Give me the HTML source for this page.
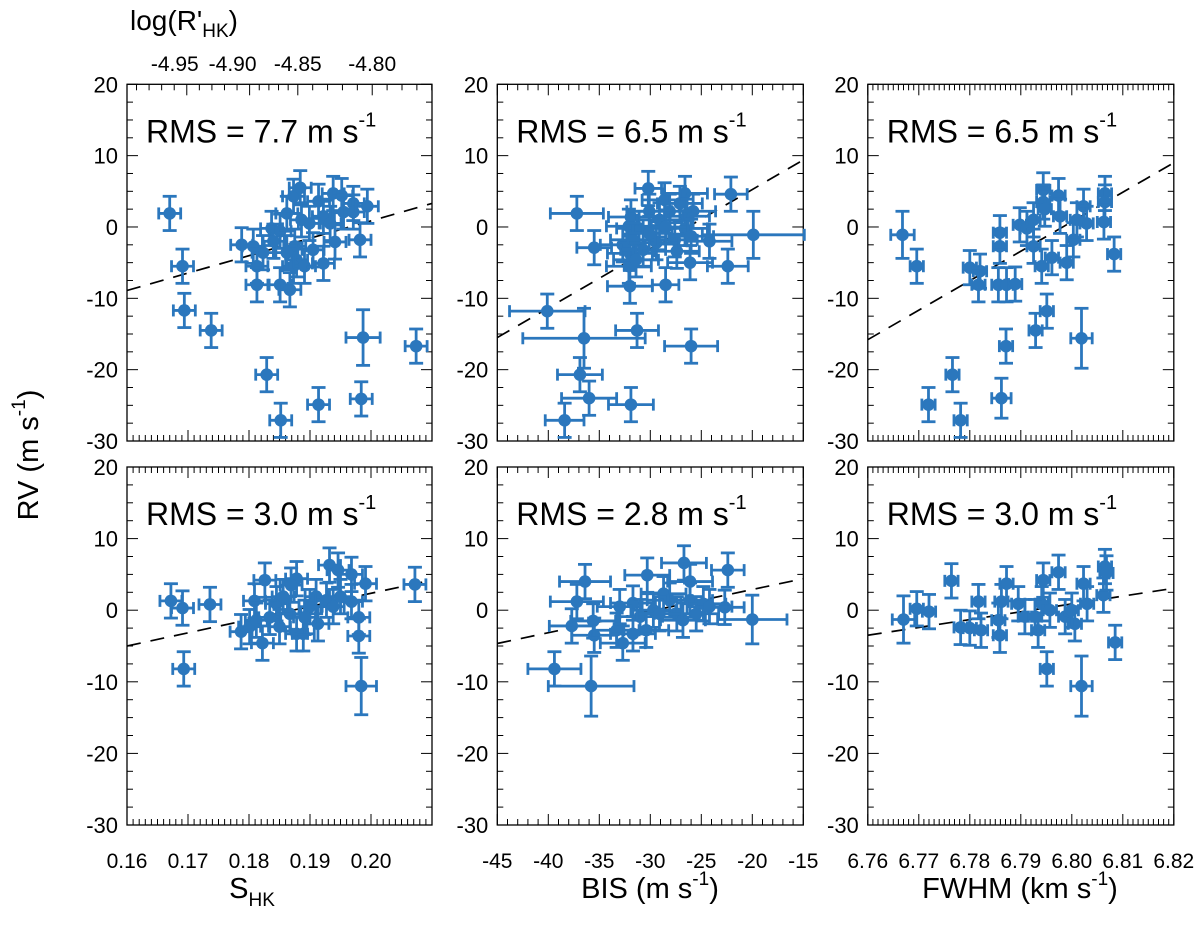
<!DOCTYPE html>
<html><head><meta charset="utf-8"><style>
html,body{margin:0;padding:0;background:#fff;}
svg{display:block;font-family:"Liberation Sans",Arial,sans-serif;}
</style></head><body>
<svg id="chart" width="1200" height="929" viewBox="0 0 1200 929" xmlns="http://www.w3.org/2000/svg">
<text x="130" y="30" font-size="28">log(R'<tspan font-size="19" dy="7">HK</tspan><tspan dy="-7">)</tspan></text>
<text transform="translate(38,455) rotate(-90)" text-anchor="middle" font-size="29">RV (m s<tspan font-size="19" dy="-13">-1</tspan><tspan dy="13">)</tspan></text>
<text x="252" y="898" text-anchor="middle" font-size="29">S<tspan font-size="19" dy="8">HK</tspan></text>
<text x="650" y="898" text-anchor="middle" font-size="29">BIS (m s<tspan font-size="19" dy="-13">-1</tspan><tspan dy="13">)</tspan></text>
<text x="1020" y="898" text-anchor="middle" font-size="29">FWHM (km s<tspan font-size="19" dy="-13">-1</tspan><tspan dy="13">)</tspan></text>
</svg>
<script>
// ---- data ----
const yTicks = [-30, -20, -10, 0, 10, 20];
const shkTicks = [0.16, 0.17, 0.18, 0.19, 0.20];
const bisTicks = [-45, -40, -35, -30, -25, -20, -15];
const fwhmTicks = [6.76, 6.77, 6.78, 6.79, 6.80, 6.81, 6.82];
const logRhkLabels = ["-4.95", "-4.90", "-4.85", "-4.80"];
const logRhkAtShk = [0.1698, 0.1801, 0.1880, 0.2002];
const rmsLabels = ["7.7", "6.5", "6.5", "3.0", "2.8", "3.0"];
// trend lines: [y at left edge, y at right edge]
const trendTL = [-8.9, 3.3];
const trendTM = [-15.5, 9.4];
const trendTR = [-15.8, 9.0];
const trendBL = [-5.0, 4.2];
const trendBM = [-4.65, 4.4];
const trendBR = [-3.5, 3.06];
// points: [x, y, xerr?, yerr?]
const ptsTL = [[0.1670,1.9],[0.1691,-5.5],[0.1694,-11.7],[0.1738,-14.5],[0.1829,-20.7],[0.1852,-27.1],[0.1914,-24.9],[0.1984,-24.1],[0.1987,-15.5,0.0028,3.9],[0.2074,-16.7],
[0.1788,-2.5],[0.1807,-2.7],[0.1823,-3.6],[0.1813,-5.5],[0.1813,-8.1],[0.1837,-0.2],[0.1851,-0.6],[0.1851,-8.1],[0.1867,-8.8],[0.1862,1.9],[0.1873,4.3],[0.1884,5.5],[0.1875,-2.7],[0.1878,-4.6],[0.1873,-5.5],[0.1891,-5.5],[0.1886,1.0],[0.1899,0.5],[0.1905,-3.2],[0.1914,3.6],[0.1922,1.5],[0.1933,0.5],[0.1922,-5.1],[0.1941,-2.1],[0.1938,4.7],[0.1952,4.4],[0.1955,2.1],[0.1971,3.3],[0.1971,2.1],[0.1982,-1.8],[0.1994,2.9],[0.1862,-3.6],[0.1840,-2.0]];
const ptsBL = [[0.1672,1.3],[0.1691,0.3],[0.1736,0.8],[0.1693,-8.2],[0.2072,3.6],[0.1984,-10.6,0.0025,4.0],[0.1980,-3.6],[0.1980,-1.0],[0.1968,1.2],[0.1991,3.7],[0.1968,5.0],[0.1932,6.3],[0.1946,5.6],[0.1826,4.2],[0.1809,1.3],[0.1822,-4.6],[0.1787,-3.0],[0.1801,-2.3],[0.1812,-1.4],[0.1878,4.4],[0.1869,3.5],[0.1845,0.9],[0.1850,-2.3],[0.1867,-0.5],[0.1878,-3.3],[0.1889,-3.3],[0.1900,0.5],[0.1910,1.9],[0.1913,-1.9],[0.1927,1.4],[0.1938,0.5],[0.1891,-1.0],[0.1856,1.9],[0.1834,-1.0],[0.1950,1.9]];
const ptsTM = [[-37.2,1.9,2.6],[-35.5,-2.9,1.7],[-32.1,0.1],[-32.7,-2.5],[-32.0,-3.7],[-30.2,5.4,1.3],[-26.6,4.7],[-22.1,4.6,1.6],[-24.2,-2.0],[-19.9,-1.1,5.0,3.3],[-22.4,-5.5,2.0],[-26.1,-5.0],[-28.5,-8.1,1.3],[-32.0,-8.3],[-40.1,-11.8,3.7],[-36.5,-15.6,6.0,4.2],[-31.3,-14.5,2.1],[-26.0,-16.7,2.6],[-36.9,-20.7],[-36.0,-24.0,2.7],[-31.9,-24.9,2.2],[-38.4,-27.1,1.9],
[-31.9,1.4],[-31.1,-0.2],[-30.1,2.2],[-29.1,1.0],[-28.6,3.8],[-28.1,2.2],[-27.1,3.3],[-26.4,1.5],[-25.8,2.2],[-26.6,-0.2],[-27.6,-1.8],[-27.4,-3.4],[-29.4,-2.2],[-30.7,-3.2],[-31.7,-1.8],[-32.1,-5.5],[-31.4,-4.6],[-28.5,0.0],[-30.1,-0.9],[-26.0,-1.3]];
const ptsBM = [[-36.4,4.0,2.5],[-37.2,1.2,2.6],[-37.7,-2.2],[-35.5,-3.5],[-35.6,-1.5],[-39.4,-8.2,2.6],[-35.8,-10.6,4.2,4.2],[-32.7,-4.6],[-33.3,-2.8],[-30.3,4.9],[-26.7,6.6],[-26.1,4.0],[-22.4,5.6,1.6],[-22.7,0.4,1.9],[-20.0,-1.3,3.4,3.4],
[-33.0,0.5],[-31.7,1.0],[-31.0,-0.9],[-30.4,-2.8],[-29.7,0.0],[-28.7,2.3],[-28.1,1.4],[-27.4,-0.5],[-26.8,-1.4],[-26.1,1.4],[-25.5,-0.5],[-24.8,0.9],[-24.2,0.5],[-31.7,-3.3],[-29.1,-0.5]];
const ptsTR = [[6.7668,-1.1,0.0023,3.3],[6.7696,-5.5],[6.7800,-5.7],[6.7820,-6.2],[6.7817,-8.1],[6.7859,-2.7],[6.7859,-0.8],[6.7856,-8.1],[6.7872,-8.1],[6.7889,-8.0],[6.7898,0.3],[6.7912,-0.2],[6.7925,1.0],[6.7944,5.2],[6.7944,3.5],[6.7974,4.4],[6.7947,2.5],[6.7977,1.5],[6.8023,2.9],[6.8029,0.5],[6.8065,4.7],[6.8065,3.5],[6.8063,0.7],[6.8083,-3.8],[6.7925,-2.7],[6.7941,-5.5],[6.7961,-4.3],[6.7990,-5.0],[6.8003,-1.8],[6.8010,1.0],[6.7951,-11.8],[6.7929,-14.5],[6.8019,-15.6,0.0021,4.2],[6.7871,-16.7],[6.7766,-20.7],[6.7862,-24.0,0.0019,2.8],[6.7719,-24.9],[6.7782,-27.1]];
const ptsBR = [[6.7670,-1.3,0.0022,3.3],[6.7696,0.2],[6.7720,-0.2],[6.7764,4.1],[6.7782,-2.4],[6.7800,-2.5],[6.7822,-2.8],[6.7817,1.2],[6.7859,-3.5],[6.7856,-1.4],[6.7862,1.2],[6.7872,3.7],[6.7895,0.9],[6.7908,-0.9],[6.7934,-2.8],[6.7944,4.2],[6.7941,0.9],[6.7957,0.0],[6.7974,5.3],[6.7987,-0.9],[6.8006,-1.9],[6.8023,3.7],[6.8030,0.9],[6.8062,2.1],[6.8065,6.1],[6.8068,5.2],[6.8085,-4.5],[6.7951,-8.2],[6.8019,-10.6,0.0021,4.2],[6.7928,-0.9],[6.8000,0.0]];

// ---- layout ----
const NS = "http://www.w3.org/2000/svg";
const svg = document.getElementById('chart');
const BLUE = "#2b77bd";
const cols = [
  {x0:127, x1:432, min:0.16, max:0.21, ticks:shkTicks, minor:0.001, fmt:v=>v.toFixed(2), xe:0.0018, key:'shk'},
  {x0:497.3, x1:803.3, min:-45, max:-15, ticks:bisTicks, minor:1, fmt:v=>String(v), xe:2.2, key:'bis'},
  {x0:867.8, x1:1173.8, min:6.76, max:6.82, ticks:fwhmTicks, minor:0.001, fmt:v=>v.toFixed(2), xe:0.0013, key:'fwhm'}
];
const rows = [{y0:84.3, y1:441}, {y0:467, y1:825}];
const pts = [[ptsTL, ptsTM, ptsTR],[ptsBL, ptsBM, ptsBR]];
const trends = [[trendTL, trendTM, trendTR],[trendBL, trendBM, trendBR]];

function mk(tag, attrs, parent){
  const e = document.createElementNS(NS, tag);
  for (const k in attrs) e.setAttribute(k, attrs[k]);
  (parent||svg).appendChild(e);
  return e;
}
function line(g, x1,y1,x2,y2, w, col){
  return mk('line', {x1:x1,y1:y1,x2:x2,y2:y2,stroke:col||'#000','stroke-width':w||1}, g);
}

for (let r=0;r<2;r++){
  for (let c=0;c<3;c++){
    const C = cols[c], R = rows[r];
    const sx = v => C.x0 + (v - C.min)/(C.max - C.min)*(C.x1 - C.x0);
    const sy = v => R.y0 + (20 - v)/50*(R.y1 - R.y0);
    const g = mk('g', {});
    
    
    const fr = mk('rect', {x:C.x0, y:R.y0, width:C.x1-C.x0, height:R.y1-R.y0, fill:'none', stroke:'#000', 'stroke-width':1.3}, g);
    
    
    for (let v=-30; v<=20.001; v+=2.5){
      const y = sy(v); const major = Math.abs(v%10)<1e-6;
      const L = major?11:6;
      line(g, C.x0, y, C.x0+L, y, 1);
      line(g, C.x1, y, C.x1-L, y, 1);
    }
    yTicks.forEach(v=>{
      const t = mk('text', {x:C.x0-9, y:sy(v)+8, 'text-anchor':'end', 'font-size':22}, g);
      
      
      t.textContent = String(v);
    });
    const nMinor = Math.round((C.max-C.min)/C.minor);
    for (let i=0;i<=nMinor;i++){
      const v = C.min + i*C.minor;
      const x = sx(v);
      const major = C.ticks.some(t=>Math.abs(t-v)<C.minor*0.1);
      const L = major?11:6;
      line(g, x, R.y1, x, R.y1-L, 1);
      if (!(r===0 && c===0)) line(g, x, R.y0, x, R.y0+L, 1);
    }
    if (r===1){
      C.ticks.forEach(v=>{
        const t = mk('text', {x:sx(v), y:868, 'text-anchor':'middle', 'font-size':21}, g);
        
        
        t.textContent = C.fmt(v);
      });
    }
    if (r===0 && c===0){
      const xs = logRhkAtShk.map(sx);
      const labelDx = [-12, -17, 0, 0];
      for (let i=0;i<xs.length;i++){
        line(g, xs[i], R.y0, xs[i], R.y0+11, 1);
        const t = mk('text', {x:xs[i]+labelDx[i], y:71, 'text-anchor':'middle', 'font-size':21}, g);
        
        
        t.textContent = logRhkLabels[i];
        if (i<xs.length-1){
          for (let k=1;k<5;k++) line(g, xs[i]+(xs[i+1]-xs[i])*k/5, R.y0, xs[i]+(xs[i+1]-xs[i])*k/5, R.y0+6, 1);
        }
      }
      const step = (xs[1]-xs[0])/5;
      for (let x=xs[0]-step; x>C.x0; x-=step) line(g, x, R.y0, x, R.y0+6, 1);
      const step2 = (xs[3]-xs[2])/5;
      for (let x=xs[3]+step2; x<C.x1; x+=step2) line(g, x, R.y0, x, R.y0+6, 1);
    }
    const rt = mk('text', {x:C.x0+19, y:R.y0+58, 'font-size':32}, g);
    
    
    rt.innerHTML = 'RMS = ' + rmsLabels[r*3+c] + ' m s<tspan font-size="20" dy="-16">-1</tspan>';
    const tr = trends[r][c];
    const tl = mk('line', {x1:C.x0, y1:sy(tr[0]), x2:C.x1, y2:sy(tr[1]), stroke:'#000', 'stroke-width':1.7, 'stroke-dasharray':'14 10'}, g);
    
    
    pts[r][c].forEach(p=>{
      const xe = p[2]!==undefined ? p[2] : C.xe;
      const ye = p[3]!==undefined ? p[3] : 2.4;
      const x = sx(p[0]), y = sy(p[1]);
      const pg = mk('g', {}, g);
      
      
      const xl = sx(p[0]-xe), xr = sx(p[0]+xe), yt = sy(p[1]+ye), yb = sy(p[1]-ye);
      line(pg, xl, y, xr, y, 2.8, BLUE);
      line(pg, x, yt, x, yb, 2.8, BLUE);
      line(pg, xl, y-6, xl, y+6, 2.8, BLUE);
      line(pg, xr, y-6, xr, y+6, 2.8, BLUE);
      line(pg, x-7, yt, x+7, yt, 2.8, BLUE);
      line(pg, x-7, yb, x+7, yb, 2.8, BLUE);
      mk('circle', {cx:x, cy:y, r:6.3, fill:BLUE}, pg);
    });
  }
}
</script>
</body></html>
